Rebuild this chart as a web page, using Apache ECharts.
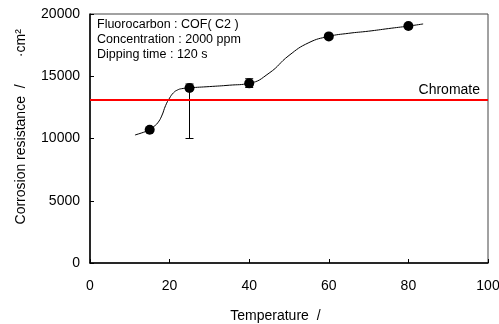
<!DOCTYPE html>
<html>
<head>
<meta charset="utf-8">
<script src="https://cdn.jsdelivr.net/npm/echarts@6/dist/echarts.min.js"></script>
<style>
  html, body { margin: 0; padding: 0; background: #fff; }
  #chart { width: 499px; height: 324px; }
</style>
</head>
<body>
<div id="chart"></div>
<script>
// measured points
var temps = [15, 25, 40, 60, 80];
var resistance = [10700, 14050, 14430, 18200, 19030];

// error bars: [temperature, low, high]
var errorBars = [[25, 10000, 14380], [40, 14100, 14800]];

// fitted curve
var curveX = [11.3, 14, 15, 16, 17, 18, 19, 20, 21, 22, 23, 25, 30, 35, 40, 45, 50, 55, 60, 65, 70, 75, 80, 83.7];
var curveY = [10280, 10560, 10700, 10950, 11250, 11800, 12650, 13250, 13680, 13900, 14000, 14070, 14170, 14280, 14430, 15250, 16670, 17700, 18200, 18450, 18620, 18830, 19030, 19200];

var chromate = 13100;

var font = 'Liberation Sans, Arial, sans-serif';
var sp = function (n) { return new Array(n + 1).join('\u00a0'); };

var chart = echarts.init(document.getElementById('chart'));
chart.setOption({
    animation: false,
    textStyle: { fontFamily: font },
    grid: {
        left: 90, right: 11, top: 14, bottom: 61,
        outerBoundsMode: 'none',
        containLabel: false,
        show: true, borderColor: '#444', borderWidth: 1
    },
    graphic: [
        {
            type: 'text', left: 97, top: 17,
            style: {
                text: 'Fluorocarbon : COF( C2 )\nConcentration : 2000 ppm\nDipping time : 120 s',
                font: '12.5px ' + font, fill: '#000', lineHeight: 15
            }
        }
    ],
    xAxis: {
        type: 'value', min: 0, max: 100, interval: 20,
        name: 'Temperature  /' + sp(7),
        nameLocation: 'middle', nameGap: 46,
        nameTextStyle: { color: '#000', fontSize: 14 },
        axisLine: { lineStyle: { color: '#000', width: 1.5 } },
        axisTick: { inside: true, length: 4, lineStyle: { color: '#000' } },
        axisLabel: { color: '#000', fontSize: 14, margin: 16 },
        splitLine: { show: false }
    },
    yAxis: {
        type: 'value', min: 0, max: 20000, interval: 5000,
        name: sp(6) + 'Corrosion resistance  /' + sp(7) + '\u00b7cm\u00b2',
        nameLocation: 'middle', nameGap: 62, nameRotate: 90,
        nameTextStyle: { color: '#000', fontSize: 14 },
        axisLine: { show: true, lineStyle: { color: '#000', width: 1.5 } },
        axisTick: { show: true, inside: true, length: 4, lineStyle: { color: '#000' } },
        axisLabel: { color: '#000', fontSize: 14, margin: 10, formatter: function (v) { return String(v); } },
        splitLine: { show: false }
    },
    series: [
        {
            name: 'fit',
            type: 'line',
            smooth: 0.5,
            showSymbol: false,
            data: curveX.map(function (x, i) { return [x, curveY[i]]; }),
            lineStyle: { color: '#000', width: 1 },
            markLine: {
                silent: true,
                symbol: ['none', 'none'],
                lineStyle: { color: '#ff0000', width: 2, type: 'solid' },
                label: {
                    show: true, position: 'insideEndTop', formatter: 'Chromate',
                    color: '#000', fontSize: 14, distance: [8, 3]
                },
                data: [{ yAxis: chromate }]
            },
            z: 2
        },
        {
            name: 'error',
            type: 'custom',
            data: errorBars,
            renderItem: function (params, api) {
                var x = api.value(0);
                var lo = api.coord([x, api.value(1)]);
                var hi = api.coord([x, api.value(2)]);
                var w = 4;
                var st = { stroke: '#000', lineWidth: 1 };
                return {
                    type: 'group',
                    children: [
                        { type: 'line', shape: { x1: lo[0], y1: lo[1], x2: hi[0], y2: hi[1] }, style: st },
                        { type: 'line', shape: { x1: lo[0] - w, y1: lo[1], x2: lo[0] + w, y2: lo[1] }, style: st },
                        { type: 'line', shape: { x1: hi[0] - w, y1: hi[1], x2: hi[0] + w, y2: hi[1] }, style: st }
                    ]
                };
            },
            z: 3
        },
        {
            name: 'data',
            type: 'scatter',
            symbol: 'circle',
            symbolSize: 10,
            itemStyle: { color: '#000', opacity: 1 },
            data: temps.map(function (t, i) { return [t, resistance[i]]; }),
            z: 4
        }
    ]
});
</script>
</body>
</html>
